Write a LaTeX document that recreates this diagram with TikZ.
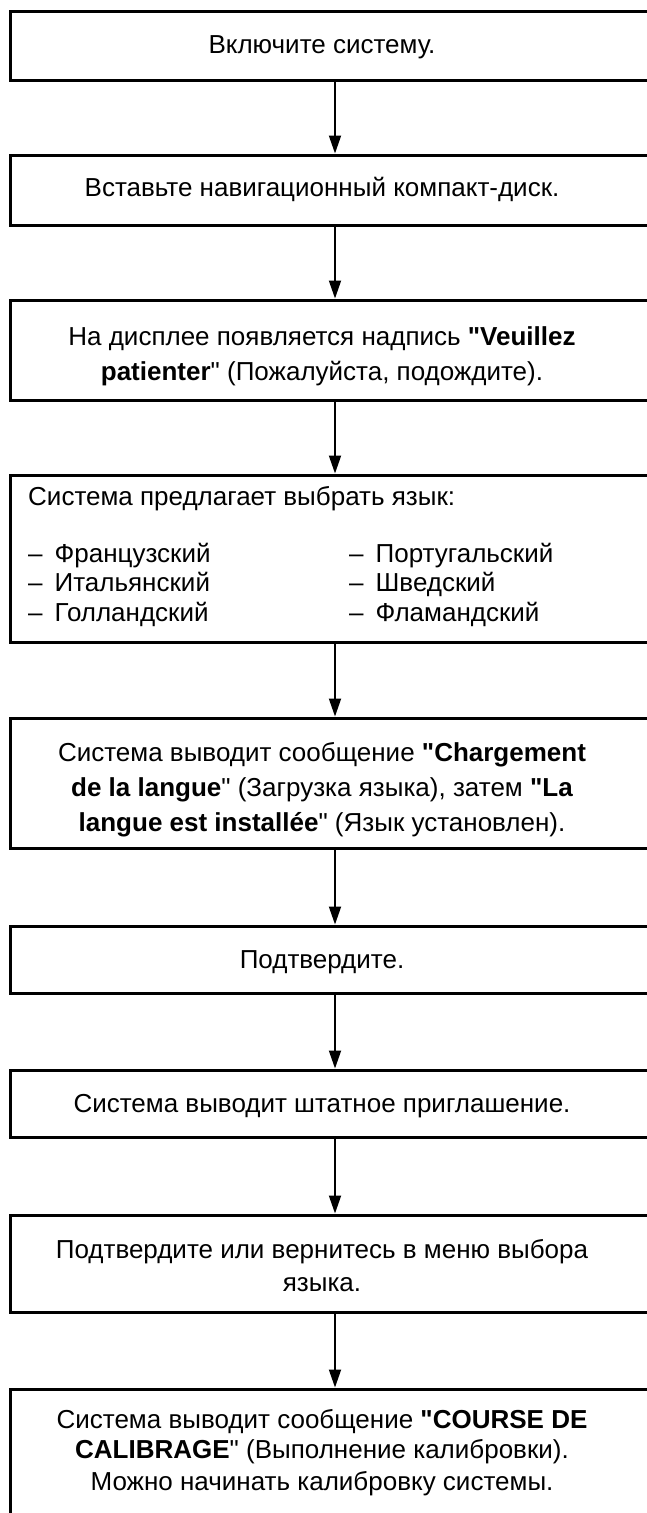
\documentclass[tikz,border=0pt]{standalone}
\usepackage{fontspec}
\setmainfont{Liberation Sans}[Ligatures=TeXOff]
\usetikzlibrary{arrows.meta}
\begin{document}
\begin{tikzpicture}[x=1pt,y=-1pt,
  box/.style={draw, line width=3pt, minimum width=650pt, inner sep=0pt},
  txt/.style={anchor=base, inner sep=0pt, font=\fontsize{26}{35}\selectfont},
  ltxt/.style={anchor=base west, inner sep=0pt, font=\fontsize{26}{35}\selectfont},
  arr/.style={line width=1.8pt, -{Triangle[length=18pt,width=12pt]}}]
\useasboundingbox (0,0) rectangle (647,1513);
\fill[white] (0,0) rectangle (647,1513);
\clip (0,0) rectangle (647,1513);
% boxes
\node[box, minimum height=69pt]  (b1) at (335,46) {};
\node[box, minimum height=70pt]  (b2) at (335,190) {};
\node[box, minimum height=100pt] (b3) at (335,350) {};
\node[box, minimum height=167pt] (b4) at (335,558.5) {};
\node[box, minimum height=130pt] (b5) at (335,783) {};
\node[box, minimum height=67pt]  (b6) at (335,959.5) {};
\node[box, minimum height=67pt]  (b7) at (335,1103.5) {};
\node[box, minimum height=97pt]  (b8) at (335,1263.5) {};
\node[box, minimum height=200pt] (b9) at (335,1489) {};
% texts
\node[txt] (t1) at (322,53) {Включите систему.};
\node[txt] (t2) at (322,196) {Вставьте навигационный компакт-диск.};
\node[txt] (t3a) at (322,345) {На дисплее появляется надпись \textbf{"Veuillez}};
\node[txt] (t3b) at (322,380) {\textbf{patienter}" (Пожалуйста, подождите).};
\node[ltxt] (t4) at (28,505) {Система предлагает выбрать язык:};
\node[ltxt] (t4a) at (28,562) {–\hspace{12pt}Французский};
\node[ltxt] (t4b) at (28,591) {–\hspace{12pt}Итальянский};
\node[ltxt] (t4c) at (28,621) {–\hspace{12pt}Голландский};
\node[ltxt] (t4d) at (349,562) {–\hspace{12pt}Португальский};
\node[ltxt] (t4e) at (349,591) {–\hspace{12pt}Шведский};
\node[ltxt] (t4f) at (349,621) {–\hspace{12pt}Фламандский};
\node[txt] (t5a) at (322,761) {Система выводит сообщение \textbf{"Chargement}};
\node[txt] (t5b) at (322,796) {\textbf{de la langue}" (Загрузка языка), затем \textbf{"La}};
\node[txt] (t5c) at (322,831) {\textbf{langue est installée}" (Язык установлен).};
\node[txt] (t6) at (322,968) {Подтвердите.};
\node[txt] (t7) at (322,1112) {Система выводит штатное приглашение.};
\node[txt] (t8a) at (322,1258) {Подтвердите или вернитесь в меню выбора};
\node[txt] (t8b) at (322,1291) {языка.};
\node[txt] (t9a) at (322,1428) {Система выводит сообщение \textbf{"COURSE DE}};
\node[txt] (t9b) at (322,1458) {\textbf{CALIBRAGE}" (Выполнение калибровки).};
\node[txt] (t9c) at (322,1490) {Можно начинать калибровку системы.};
% arrows
\draw[arr] (b1.south) -- (b2.north);
\draw[arr] (b2.south) -- (b3.north);
\draw[arr] (b3.south) -- (b4.north);
\draw[arr] (b4.south) -- (b5.north);
\draw[arr] (b5.south) -- (b6.north);
\draw[arr] (b6.south) -- (b7.north);
\draw[arr] (b7.south) -- (b8.north);
\draw[arr] (b8.south) -- (b9.north);
\end{tikzpicture}
\end{document}
